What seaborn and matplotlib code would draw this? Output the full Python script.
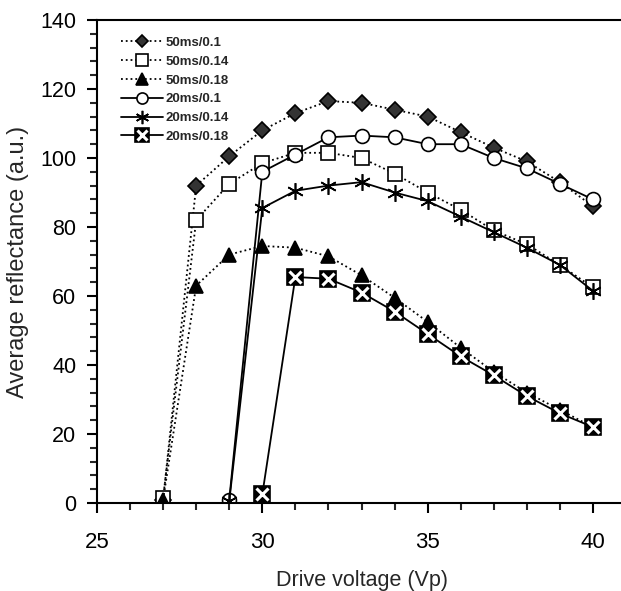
import numpy as np
import pandas as pd
import seaborn as sns
import matplotlib.pyplot as plt
from matplotlib.ticker import MultipleLocator

sns.set_style("ticks")
plt.rcParams['font.family'] = ['Liberation Sans', 'DejaVu Sans']

# data
volt_50 = [27, 28, 29, 30, 31, 32, 33, 34, 35, 36, 37, 38, 39, 40]
r_50_010 = [1, 92, 100.5, 108, 113, 116.5, 116, 114, 112, 107.5, 103, 99, 93, 86]
r_50_014 = [1.5, 82, 92.5, 98.5, 101.5, 101.5, 100, 95.5, 90, 85, 79, 75, 69, 62.5]
r_50_018 = [1, 63, 72, 74.5, 74, 71.5, 66, 59.5, 52.5, 45, 38, 32, 27, 22]

volt_20a = [29, 30, 31, 32, 33, 34, 35, 36, 37, 38, 39, 40]
r_20_010 = [1, 96, 101, 106, 106.5, 106, 104, 104, 100, 97, 92.5, 88]
r_20_014 = [0.5, 85.5, 90.5, 92, 93, 90, 87.5, 83, 78.5, 74, 69, 61.5]

volt_20b = [30, 31, 32, 33, 34, 35, 36, 37, 38, 39, 40]
r_20_018 = [2.5, 65.5, 65, 61, 55.5, 49, 42.5, 37, 31, 26, 22]

fig = plt.figure(figsize=(6.21, 5.91), dpi=100)
ax = fig.add_axes([97/621, 1-503/591, 529/621, 483/591])

def draw(x, y, ls, **kw):
    df = pd.DataFrame({"v": x, "r": y})
    sns.lineplot(data=df, x="v", y="r", ax=ax, color="black", linestyle=ls,
                 linewidth=1.3, markeredgecolor="black", markeredgewidth=1.2, **kw)
    return ax.lines[-1]

h1 = draw(volt_50, r_50_010, ":", marker="D", markersize=8, markerfacecolor="#333333")
h2 = draw(volt_50, r_50_014, ":", marker="s", markersize=10, markerfacecolor="white")
h3 = draw(volt_50, r_50_018, ":", marker="^", markersize=10, markerfacecolor="black")
h4 = draw(volt_20a, r_20_010, "-", marker="o", markersize=10, markerfacecolor="white")
h5 = draw(volt_20a, r_20_014, "-", marker=(6, 2, 0), markersize=12, markerfacecolor="black")
h6 = draw(volt_20b, r_20_018, "-", marker="s", markersize=12, markerfacecolor="black")
h6x, = ax.plot(volt_20b, r_20_018, linestyle="none", marker="x", markersize=9,
               markeredgecolor="white", markeredgewidth=2.2)

ax.set_xlim(25, 41)
ax.set_ylim(0, 140)
ax.xaxis.set_major_locator(MultipleLocator(5))
ax.xaxis.set_minor_locator(MultipleLocator(1))
ax.yaxis.set_major_locator(MultipleLocator(20))
ax.yaxis.set_minor_locator(MultipleLocator(4))
ax.tick_params(which="major", length=7, width=1.5, labelsize=16, colors="black")
ax.tick_params(which="minor", length=5, width=1.5)
ax.tick_params(axis="x", pad=14)
ax.tick_params(axis="y", pad=8, labelsize=15.5)
for s in ax.spines.values():
    s.set_linewidth(1.5)
    s.set_color("black")

ax.set_xlabel("Drive voltage (Vp)", fontsize=15.5, labelpad=12)
ax.set_ylabel("Average reflectance (a.u.)", fontsize=17, labelpad=8)

leg = ax.legend([h1, h2, h3, h4, h5, (h6, h6x)],
                ["50ms/0.1", "50ms/0.14", "50ms/0.18", "20ms/0.1", "20ms/0.14", "20ms/0.18"],
                loc="upper left", bbox_to_anchor=(0.023, 0.99), frameon=False,
                prop={"size": 9.5, "weight": "bold"}, handlelength=3.2,
                handletextpad=0.2, labelspacing=0.5, markerscale=0.8)

fig.savefig("out.png", dpi=100)
